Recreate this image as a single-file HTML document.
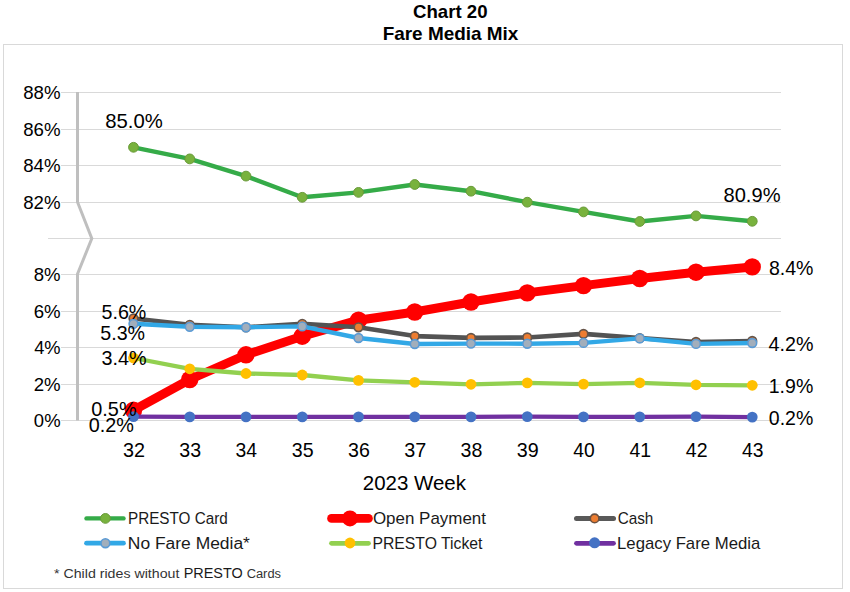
<!DOCTYPE html>
<html><head><meta charset="utf-8"><title>Chart 20 Fare Media Mix</title>
<style>
html,body{margin:0;padding:0;background:#fff;}
body{width:850px;height:592px;overflow:hidden;}
svg{display:block;font-family:"Liberation Sans",sans-serif;}
</style></head><body>
<svg width="850" height="592" viewBox="0 0 850 592">
<rect x="3.5" y="44.5" width="839" height="544" fill="#fff" stroke="#d9d9d9" stroke-width="1"/>
<line x1="61" y1="92.50" x2="781" y2="92.50" stroke="#d9d9d9" stroke-width="1"/><line x1="61" y1="129.50" x2="781" y2="129.50" stroke="#d9d9d9" stroke-width="1"/><line x1="61" y1="165.50" x2="781" y2="165.50" stroke="#d9d9d9" stroke-width="1"/><line x1="61" y1="202.50" x2="781" y2="202.50" stroke="#d9d9d9" stroke-width="1"/><line x1="48" y1="238.50" x2="781" y2="238.50" stroke="#d9d9d9" stroke-width="1"/><line x1="61" y1="274.50" x2="781" y2="274.50" stroke="#d9d9d9" stroke-width="1"/><line x1="61" y1="311.50" x2="781" y2="311.50" stroke="#d9d9d9" stroke-width="1"/><line x1="61" y1="347.50" x2="781" y2="347.50" stroke="#d9d9d9" stroke-width="1"/><line x1="61" y1="384.50" x2="781" y2="384.50" stroke="#d9d9d9" stroke-width="1"/><line x1="61" y1="420.50" x2="781" y2="420.50" stroke="#d9d9d9" stroke-width="1"/>
<polyline points="77.5,92 77.5,202 91.8,238.5 77.5,274 77.5,420.5" fill="none" stroke="#bfbfbf" stroke-width="3" stroke-linejoin="miter"/>
<polyline points="133.50,147.30 189.75,158.90 246.00,176.10 302.25,197.30 358.50,192.40 414.75,184.50 471.00,191.20 527.25,202.20 583.50,211.90 639.75,221.50 696.00,215.90 752.25,221.30" fill="none" stroke="#35ab48" stroke-width="4.4" stroke-linejoin="round" stroke-linecap="round"/>
<circle cx="133.50" cy="147.30" r="4.9" fill="#78b23d" stroke="#6a9a3a" stroke-width="1.0"/><circle cx="189.75" cy="158.90" r="4.9" fill="#78b23d" stroke="#6a9a3a" stroke-width="1.0"/><circle cx="246.00" cy="176.10" r="4.9" fill="#78b23d" stroke="#6a9a3a" stroke-width="1.0"/><circle cx="302.25" cy="197.30" r="4.9" fill="#78b23d" stroke="#6a9a3a" stroke-width="1.0"/><circle cx="358.50" cy="192.40" r="4.9" fill="#78b23d" stroke="#6a9a3a" stroke-width="1.0"/><circle cx="414.75" cy="184.50" r="4.9" fill="#78b23d" stroke="#6a9a3a" stroke-width="1.0"/><circle cx="471.00" cy="191.20" r="4.9" fill="#78b23d" stroke="#6a9a3a" stroke-width="1.0"/><circle cx="527.25" cy="202.20" r="4.9" fill="#78b23d" stroke="#6a9a3a" stroke-width="1.0"/><circle cx="583.50" cy="211.90" r="4.9" fill="#78b23d" stroke="#6a9a3a" stroke-width="1.0"/><circle cx="639.75" cy="221.50" r="4.9" fill="#78b23d" stroke="#6a9a3a" stroke-width="1.0"/><circle cx="696.00" cy="215.90" r="4.9" fill="#78b23d" stroke="#6a9a3a" stroke-width="1.0"/><circle cx="752.25" cy="221.30" r="4.9" fill="#78b23d" stroke="#6a9a3a" stroke-width="1.0"/>
<polyline points="133.50,410.20 189.75,379.50 246.00,354.80 302.25,336.20 358.50,320.20 414.75,312.00 471.00,302.00 527.25,292.90 583.50,285.60 639.75,278.50 696.00,272.20 752.25,266.90" fill="none" stroke="#ff0000" stroke-width="9" stroke-linejoin="round" stroke-linecap="round"/>
<circle cx="133.50" cy="410.20" r="8.7" fill="#ff0000"/><circle cx="189.75" cy="379.50" r="8.7" fill="#ff0000"/><circle cx="246.00" cy="354.80" r="8.7" fill="#ff0000"/><circle cx="302.25" cy="336.20" r="8.7" fill="#ff0000"/><circle cx="358.50" cy="320.20" r="8.7" fill="#ff0000"/><circle cx="414.75" cy="312.00" r="8.7" fill="#ff0000"/><circle cx="471.00" cy="302.00" r="8.7" fill="#ff0000"/><circle cx="527.25" cy="292.90" r="8.7" fill="#ff0000"/><circle cx="583.50" cy="285.60" r="8.7" fill="#ff0000"/><circle cx="639.75" cy="278.50" r="8.7" fill="#ff0000"/><circle cx="696.00" cy="272.20" r="8.7" fill="#ff0000"/><circle cx="752.25" cy="266.90" r="8.7" fill="#ff0000"/>
<polyline points="133.50,318.50 189.75,324.80 246.00,327.30 302.25,323.80 358.50,327.30 414.75,336.10 471.00,337.90 527.25,337.50 583.50,333.90 639.75,338.10 696.00,342.00 752.25,341.00" fill="none" stroke="#535353" stroke-width="4.6" stroke-linejoin="round" stroke-linecap="round"/>
<circle cx="133.50" cy="318.50" r="4.3" fill="#ed7d31" stroke="#65554a" stroke-width="1.7"/><circle cx="189.75" cy="324.80" r="4.3" fill="#ed7d31" stroke="#65554a" stroke-width="1.7"/><circle cx="246.00" cy="327.30" r="4.3" fill="#ed7d31" stroke="#65554a" stroke-width="1.7"/><circle cx="302.25" cy="323.80" r="4.3" fill="#ed7d31" stroke="#65554a" stroke-width="1.7"/><circle cx="358.50" cy="327.30" r="4.3" fill="#ed7d31" stroke="#65554a" stroke-width="1.7"/><circle cx="414.75" cy="336.10" r="4.3" fill="#ed7d31" stroke="#65554a" stroke-width="1.7"/><circle cx="471.00" cy="337.90" r="4.3" fill="#ed7d31" stroke="#65554a" stroke-width="1.7"/><circle cx="527.25" cy="337.50" r="4.3" fill="#ed7d31" stroke="#65554a" stroke-width="1.7"/><circle cx="583.50" cy="333.90" r="4.3" fill="#ed7d31" stroke="#65554a" stroke-width="1.7"/><circle cx="639.75" cy="338.10" r="4.3" fill="#ed7d31" stroke="#65554a" stroke-width="1.7"/><circle cx="696.00" cy="342.00" r="4.3" fill="#ed7d31" stroke="#65554a" stroke-width="1.7"/><circle cx="752.25" cy="341.00" r="4.3" fill="#ed7d31" stroke="#65554a" stroke-width="1.7"/>
<polyline points="133.50,323.80 189.75,326.80 246.00,327.30 302.25,326.40 358.50,338.00 414.75,344.00 471.00,343.60 527.25,343.70 583.50,342.90 639.75,338.40 696.00,343.90 752.25,343.00" fill="none" stroke="#32a8e6" stroke-width="4.4" stroke-linejoin="round" stroke-linecap="round"/>
<circle cx="133.50" cy="323.80" r="4.4" fill="#a2aebb" stroke="#5b9bd5" stroke-width="1.6"/><circle cx="189.75" cy="326.80" r="4.4" fill="#a2aebb" stroke="#5b9bd5" stroke-width="1.6"/><circle cx="246.00" cy="327.30" r="4.4" fill="#a2aebb" stroke="#5b9bd5" stroke-width="1.6"/><circle cx="302.25" cy="326.40" r="4.4" fill="#a2aebb" stroke="#5b9bd5" stroke-width="1.6"/><circle cx="358.50" cy="338.00" r="4.4" fill="#a2aebb" stroke="#5b9bd5" stroke-width="1.6"/><circle cx="414.75" cy="344.00" r="4.4" fill="#a2aebb" stroke="#5b9bd5" stroke-width="1.6"/><circle cx="471.00" cy="343.60" r="4.4" fill="#a2aebb" stroke="#5b9bd5" stroke-width="1.6"/><circle cx="527.25" cy="343.70" r="4.4" fill="#a2aebb" stroke="#5b9bd5" stroke-width="1.6"/><circle cx="583.50" cy="342.90" r="4.4" fill="#a2aebb" stroke="#5b9bd5" stroke-width="1.6"/><circle cx="639.75" cy="338.40" r="4.4" fill="#a2aebb" stroke="#5b9bd5" stroke-width="1.6"/><circle cx="696.00" cy="343.90" r="4.4" fill="#a2aebb" stroke="#5b9bd5" stroke-width="1.6"/><circle cx="752.25" cy="343.00" r="4.4" fill="#a2aebb" stroke="#5b9bd5" stroke-width="1.6"/>
<polyline points="133.50,358.00 189.75,368.80 246.00,373.50 302.25,375.00 358.50,380.40 414.75,382.30 471.00,384.30 527.25,382.90 583.50,384.10 639.75,382.80 696.00,384.80 752.25,385.30" fill="none" stroke="#92d050" stroke-width="4.3" stroke-linejoin="round" stroke-linecap="round"/>
<circle cx="133.50" cy="358.00" r="5.4" fill="#ffc000"/><circle cx="189.75" cy="368.80" r="5.4" fill="#ffc000"/><circle cx="246.00" cy="373.50" r="5.4" fill="#ffc000"/><circle cx="302.25" cy="375.00" r="5.4" fill="#ffc000"/><circle cx="358.50" cy="380.40" r="5.4" fill="#ffc000"/><circle cx="414.75" cy="382.30" r="5.4" fill="#ffc000"/><circle cx="471.00" cy="384.30" r="5.4" fill="#ffc000"/><circle cx="527.25" cy="382.90" r="5.4" fill="#ffc000"/><circle cx="583.50" cy="384.10" r="5.4" fill="#ffc000"/><circle cx="639.75" cy="382.80" r="5.4" fill="#ffc000"/><circle cx="696.00" cy="384.80" r="5.4" fill="#ffc000"/><circle cx="752.25" cy="385.30" r="5.4" fill="#ffc000"/>
<polyline points="133.50,416.60 189.75,416.90 246.00,416.90 302.25,416.90 358.50,416.90 414.75,416.90 471.00,416.90 527.25,416.60 583.50,416.90 639.75,416.90 696.00,416.60 752.25,417.10" fill="none" stroke="#7030a0" stroke-width="4.2" stroke-linejoin="round" stroke-linecap="round"/>
<circle cx="133.50" cy="416.60" r="5.4" fill="#4472c4"/><circle cx="189.75" cy="416.90" r="5.4" fill="#4472c4"/><circle cx="246.00" cy="416.90" r="5.4" fill="#4472c4"/><circle cx="302.25" cy="416.90" r="5.4" fill="#4472c4"/><circle cx="358.50" cy="416.90" r="5.4" fill="#4472c4"/><circle cx="414.75" cy="416.90" r="5.4" fill="#4472c4"/><circle cx="471.00" cy="416.90" r="5.4" fill="#4472c4"/><circle cx="527.25" cy="416.60" r="5.4" fill="#4472c4"/><circle cx="583.50" cy="416.90" r="5.4" fill="#4472c4"/><circle cx="639.75" cy="416.90" r="5.4" fill="#4472c4"/><circle cx="696.00" cy="416.60" r="5.4" fill="#4472c4"/><circle cx="752.25" cy="417.10" r="5.4" fill="#4472c4"/>
<g stroke-linecap="round">
<line x1="86.5" y1="518.4" x2="123.5" y2="518.4" stroke="#35ab48" stroke-width="4.4"/>
<line x1="86.5" y1="543.2" x2="123.5" y2="543.2" stroke="#32a8e6" stroke-width="4.7"/>
<line x1="331.5" y1="518.4" x2="368.5" y2="518.4" stroke="#ff0000" stroke-width="8.7"/>
<line x1="331.5" y1="543.3" x2="368.5" y2="543.3" stroke="#92d050" stroke-width="4.8"/>
<line x1="576.5" y1="518.5" x2="613.5" y2="518.5" stroke="#595959" stroke-width="5"/>
<line x1="576.5" y1="543.3" x2="613.5" y2="543.3" stroke="#7030a0" stroke-width="4.8"/>
</g>
<circle cx="105.4" cy="518.4" r="4.9" fill="#78b23d" stroke="#6a9a3a" stroke-width="1"/>
<circle cx="105.4" cy="543.2" r="4.4" fill="#a2aebb" stroke="#5b9bd5" stroke-width="1.6"/>
<circle cx="350" cy="518.4" r="8" fill="#ff0000"/>
<circle cx="350" cy="543" r="5.4" fill="#ffc000"/>
<circle cx="594.6" cy="518.4" r="4.3" fill="#ed7d31" stroke="#6a5040" stroke-width="1.6"/>
<circle cx="594.6" cy="542.8" r="5.5" fill="#4472c4"/>
<text x="23.26" y="98.95" font-size="18.60" fill="#000" textLength="37.32" lengthAdjust="spacingAndGlyphs">88%</text>
<text x="23.26" y="135.95" font-size="18.60" fill="#000" textLength="37.32" lengthAdjust="spacingAndGlyphs">86%</text>
<text x="23.26" y="171.95" font-size="18.60" fill="#000" textLength="37.32" lengthAdjust="spacingAndGlyphs">84%</text>
<text x="23.26" y="208.95" font-size="18.60" fill="#000" textLength="37.32" lengthAdjust="spacingAndGlyphs">82%</text>
<text x="33.77" y="280.95" font-size="18.60" fill="#000" textLength="26.79" lengthAdjust="spacingAndGlyphs">8%</text>
<text x="33.67" y="317.95" font-size="18.60" fill="#000" textLength="26.89" lengthAdjust="spacingAndGlyphs">6%</text>
<text x="34.14" y="353.95" font-size="18.60" fill="#000" textLength="26.40" lengthAdjust="spacingAndGlyphs">4%</text>
<text x="33.67" y="390.95" font-size="18.60" fill="#000" textLength="26.89" lengthAdjust="spacingAndGlyphs">2%</text>
<text x="33.86" y="426.95" font-size="18.60" fill="#000" textLength="26.69" lengthAdjust="spacingAndGlyphs">0%</text>
<text x="413.06" y="17.50" font-size="18.40" font-weight="bold" fill="#000" textLength="74.52" lengthAdjust="spacingAndGlyphs">Chart 20</text>
<text x="382.67" y="39.50" font-size="18.40" font-weight="bold" fill="#000" textLength="135.70" lengthAdjust="spacingAndGlyphs">Fare Media Mix</text>
<text x="105.19" y="127.50" font-size="20.20" fill="#000" textLength="57.53" lengthAdjust="spacingAndGlyphs">85.0%</text>
<text x="723.50" y="201.70" font-size="20.20" fill="#000" textLength="57.02" lengthAdjust="spacingAndGlyphs">80.9%</text>
<text x="768.92" y="274.70" font-size="20.20" fill="#000" textLength="44.55" lengthAdjust="spacingAndGlyphs">8.4%</text>
<text x="768.61" y="351.40" font-size="20.20" fill="#000" textLength="44.87" lengthAdjust="spacingAndGlyphs">4.2%</text>
<text x="768.73" y="392.70" font-size="20.20" fill="#000" textLength="44.54" lengthAdjust="spacingAndGlyphs">1.9%</text>
<text x="768.82" y="424.60" font-size="20.20" fill="#000" textLength="44.45" lengthAdjust="spacingAndGlyphs">0.2%</text>
<text x="101.51" y="319.20" font-size="20.20" fill="#000" textLength="44.86" lengthAdjust="spacingAndGlyphs">5.6%</text>
<text x="100.31" y="339.50" font-size="20.20" fill="#000" textLength="44.76" lengthAdjust="spacingAndGlyphs">5.3%</text>
<text x="101.51" y="365.20" font-size="20.20" fill="#000" textLength="45.17" lengthAdjust="spacingAndGlyphs">3.4%</text>
<text x="91.31" y="415.70" font-size="20.20" fill="#000" textLength="45.28" lengthAdjust="spacingAndGlyphs">0.5%</text>
<text x="88.81" y="431.50" font-size="20.20" fill="#000" textLength="45.17" lengthAdjust="spacingAndGlyphs">0.2%</text>
<text x="362.78" y="489.50" font-size="20.00" fill="#000" textLength="103.13" lengthAdjust="spacingAndGlyphs">2023 Week</text>
<text x="127.98" y="523.50" font-size="16.00" fill="#1a1a1a" textLength="99.80" lengthAdjust="spacingAndGlyphs">PRESTO Card</text>
<text x="127.81" y="548.50" font-size="16.00" fill="#1a1a1a" textLength="122.11" lengthAdjust="spacingAndGlyphs">No Fare Media*</text>
<text x="372.94" y="523.70" font-size="15.70" fill="#1a1a1a" textLength="113.06" lengthAdjust="spacingAndGlyphs">Open Payment</text>
<text x="372.44" y="548.60" font-size="15.70" fill="#1a1a1a" textLength="109.99" lengthAdjust="spacingAndGlyphs">PRESTO Ticket</text>
<text x="617.63" y="523.70" font-size="15.70" fill="#1a1a1a" textLength="35.75" lengthAdjust="spacingAndGlyphs">Cash</text>
<text x="617.06" y="548.60" font-size="15.70" fill="#1a1a1a" textLength="143.24" lengthAdjust="spacingAndGlyphs">Legacy Fare Media</text>
<text x="53.99" y="577.50" font-size="12.00" fill="#333" textLength="125.42" lengthAdjust="spacingAndGlyphs">* Child rides without</text>
<text x="183.65" y="577.50" font-size="14.90" fill="#1a1a1a" textLength="59.06" lengthAdjust="spacingAndGlyphs">PRESTO</text>
<text x="246.66" y="577.50" font-size="12.00" fill="#333" textLength="34.33" lengthAdjust="spacingAndGlyphs">Cards</text>
<text x="123.01" y="456.80" font-size="20.60" fill="#000" textLength="22.03" lengthAdjust="spacingAndGlyphs">32</text>
<text x="179.27" y="456.80" font-size="20.60" fill="#000" textLength="21.81" lengthAdjust="spacingAndGlyphs">33</text>
<text x="235.53" y="456.80" font-size="20.60" fill="#000" textLength="21.50" lengthAdjust="spacingAndGlyphs">34</text>
<text x="291.77" y="456.80" font-size="20.60" fill="#000" textLength="21.81" lengthAdjust="spacingAndGlyphs">35</text>
<text x="348.02" y="456.80" font-size="20.60" fill="#000" textLength="21.81" lengthAdjust="spacingAndGlyphs">36</text>
<text x="404.26" y="456.80" font-size="20.60" fill="#000" textLength="22.03" lengthAdjust="spacingAndGlyphs">37</text>
<text x="460.52" y="456.80" font-size="20.60" fill="#000" textLength="21.81" lengthAdjust="spacingAndGlyphs">38</text>
<text x="516.76" y="456.80" font-size="20.60" fill="#000" textLength="21.92" lengthAdjust="spacingAndGlyphs">39</text>
<text x="573.32" y="456.80" font-size="20.60" fill="#000" textLength="21.40" lengthAdjust="spacingAndGlyphs">40</text>
<text x="629.56" y="456.80" font-size="20.60" fill="#000" textLength="21.61" lengthAdjust="spacingAndGlyphs">41</text>
<text x="685.81" y="456.80" font-size="20.60" fill="#000" textLength="21.71" lengthAdjust="spacingAndGlyphs">42</text>
<text x="742.07" y="456.80" font-size="20.60" fill="#000" textLength="21.50" lengthAdjust="spacingAndGlyphs">43</text>
</svg>
</body></html>
